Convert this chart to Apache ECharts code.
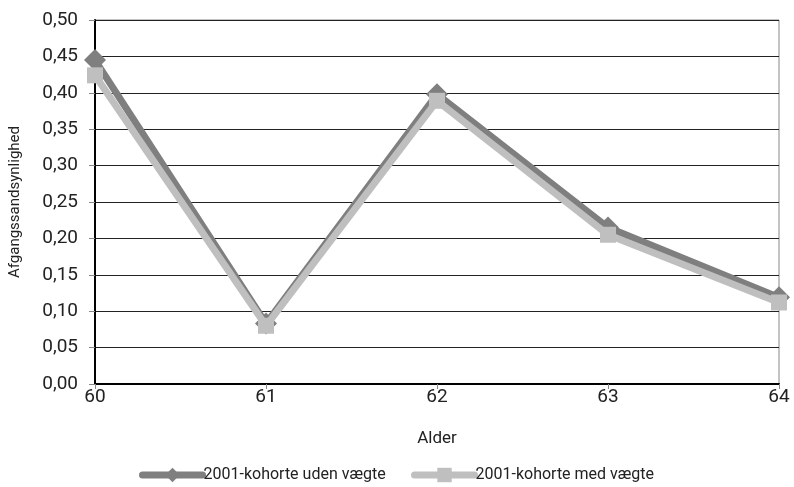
<!DOCTYPE html>
<html>
<head>
<meta charset="utf-8">
<script src="https://cdn.jsdelivr.net/npm/echarts@6/dist/echarts.min.js"></script>
<style>
  html, body { margin: 0; padding: 0; background: #fff; }
  #chart { width: 794px; height: 487px; }
</style>
</head>
<body>
<div id="chart"></div>
<script>
// Ages on the x axis
const ages = ['60', '61', '62', '63', '64'];
// Exit probability, 2001 cohort, unweighted
const unweighted = [0.445, 0.083, 0.398, 0.215, 0.119];
// Exit probability, 2001 cohort, weighted
const weighted = [0.424, 0.080, 0.389, 0.205, 0.112];
const seriesNames = ['2001-kohorte uden vægte', '2001-kohorte med vægte'];

const FONT = 'Roboto';
const TEXT = '#222';
const DARK = '#7f7f7f';
const LIGHT = '#bfbfbf';
const fmt = v => v.toFixed(2).replace('.', ',');

function legendAt(left, name) {
  return {
    bottom: -1,
    left: left,
    orient: 'horizontal',
    itemWidth: 60,
    itemHeight: 18,
    itemGap: 0,
    textStyle: { fontFamily: FONT, fontSize: 16, color: TEXT, padding: [0, 0, 0, -4] },
    lineStyle: { width: 7, cap: 'round' },
    data: [name]
  };
}

const chart = echarts.init(document.getElementById('chart'), null, { renderer: 'canvas' });
chart.setOption({
  animation: false,
  textStyle: { fontFamily: FONT, color: TEXT },
  grid: {
    left: 94, right: 15, top: 20, bottom: 103,
    show: true, borderColor: '#888', borderWidth: 1
  },
  legend: [legendAt(134, seriesNames[0]), legendAt(406, seriesNames[1])],
  xAxis: {
    type: 'category',
    data: ages,
    boundaryGap: false,
    name: 'Alder',
    nameLocation: 'middle',
    nameGap: 46,
    nameTextStyle: { fontFamily: FONT, fontSize: 17, color: TEXT },
    axisLine: { lineStyle: { color: '#000', width: 2 } },
    axisTick: { show: true, length: 5, lineStyle: { color: '#888' } },
    axisLabel: { fontFamily: FONT, fontSize: 19, color: TEXT, margin: 4 },
    splitLine: { show: false }
  },
  yAxis: {
    type: 'value',
    min: 0, max: 0.5, interval: 0.05,
    name: 'Afgangssandsynlighed',
    nameLocation: 'middle',
    nameGap: 72,
    nameTextStyle: { fontFamily: FONT, fontSize: 15, color: TEXT },
    axisLine: { show: true, lineStyle: { color: '#000', width: 2 } },
    axisTick: { show: true, length: 6, lineStyle: { color: '#888' } },
    axisLabel: { fontFamily: FONT, fontSize: 19, color: TEXT, margin: 17, formatter: fmt },
    splitLine: { show: true, lineStyle: { color: '#222', width: 1 } }
  },
  series: [
    {
      name: seriesNames[0],
      type: 'line',
      data: unweighted,
      symbol: 'diamond',
      symbolSize: 22,
      lineStyle: { color: DARK, width: 7 },
      itemStyle: { color: DARK },
      z: 2
    },
    {
      name: seriesNames[1],
      type: 'line',
      data: weighted,
      symbol: 'rect',
      symbolSize: 16,
      lineStyle: { color: LIGHT, width: 7 },
      itemStyle: { color: LIGHT },
      z: 3
    }
  ]
});
</script>
</body>
</html>
